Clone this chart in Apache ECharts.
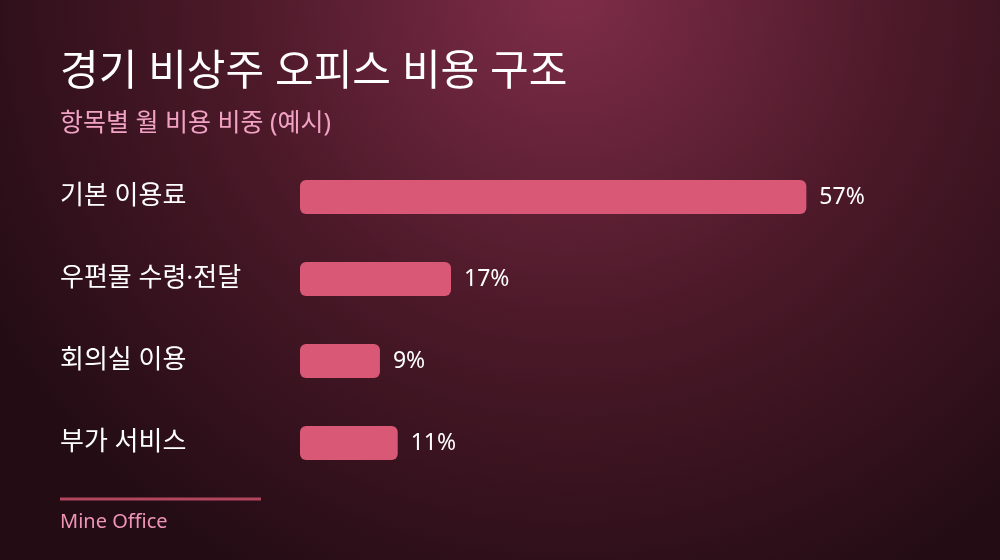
<!DOCTYPE html>
<html><head><meta charset="utf-8">
<script src="https://cdn.jsdelivr.net/npm/echarts@6/dist/echarts.min.js"></script>
<style>html,body{margin:0;padding:0;background:#2a1019}#c{width:1000px;height:560px}</style>
</head><body><div id="c"></div>
<script>
const categories = ['기본 이용료', '우편물 수령·전달', '회의실 이용', '부가 서비스'];
const shares = [57, 17, 9, 11];
const titleText = '경기 비상주 오피스 비용 구조';
const subtitleText = '항목별 월 비용 비중 (예시)';
const sourceText = 'Mine Office';

const FONT = '"Noto Sans", "Noto Sans CJK KR", sans-serif';
const chart = echarts.init(document.getElementById('c'));
chart.setOption({
  backgroundColor: {
    type: 'radial', x: 0.57, y: -0.02, r: 1.2,
    colorStops: [
      {offset: 0, color: '#7f2d49'},
      {offset: 0.5, color: '#4c1929'},
      {offset: 1, color: '#230c14'}
    ]
  },
  title: [
    {text: titleText, left: 55, top: 47, textStyle: {color: '#ffffff', fontSize: 42, fontWeight: 'normal', fontFamily: FONT}},
    {text: subtitleText, left: 55, top: 106, textStyle: {color: '#f2a3c4', fontSize: 25, fontWeight: 'normal', fontFamily: FONT}},
    {text: sourceText, left: 55, top: 507, textStyle: {color: '#ee94b6', fontSize: 20, fontWeight: 'normal', fontFamily: FONT}}
  ],
  graphic: [
    {type: 'line', shape: {x1: 60, y1: 499, x2: 261, y2: 499}, style: {stroke: '#b2465f', lineWidth: 3}}
  ],
  grid: {left: 300, top: 156, width: 533, height: 328, containLabel: false},
  xAxis: {type: 'value', min: 0, max: 60, show: false},
  yAxis: {
    type: 'category', data: categories, inverse: true,
    axisLine: {show: false}, axisTick: {show: false}, splitLine: {show: false},
    axisLabel: {align: 'left', margin: 240, color: '#ffffff', fontSize: 26, fontFamily: FONT}
  },
  series: [{
    type: 'bar', data: shares, barWidth: 34,
    itemStyle: {color: '#d95876', borderRadius: 6},
    label: {show: true, position: 'right', distance: 13, formatter: '{c}%', color: '#ffffff', fontSize: 23, fontFamily: FONT},
    silent: true, animation: false
  }],
  animation: false
});
</script></body></html>
